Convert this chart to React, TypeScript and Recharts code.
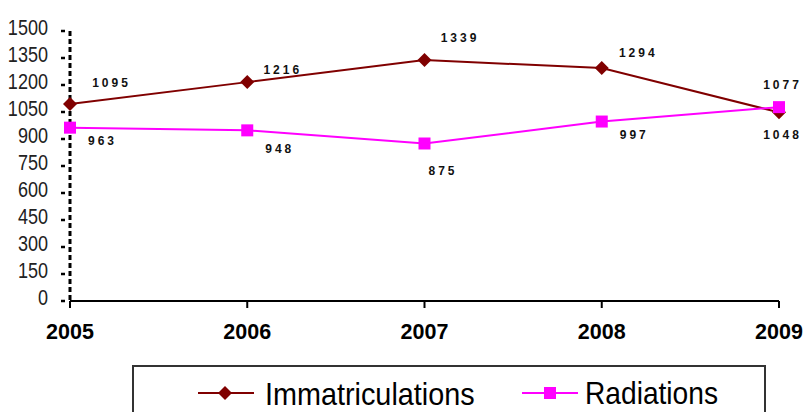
import React from 'react';
import { LineChart, Line, XAxis, YAxis, LabelList } from 'recharts';

const years = ['2005', '2006', '2007', '2008', '2009'];
const immatriculations = [1095, 1216, 1339, 1294, 1048];
const radiations = [963, 948, 875, 997, 1077];
const yTicks = [0, 150, 300, 450, 600, 750, 900, 1050, 1200, 1350, 1500];

const data = years.map((year, i) => ({
  year,
  immatriculations: immatriculations[i],
  radiations: radiations[i],
}));

const DARK_RED = '#800000';
const MAGENTA = '#FF00FF';
const SANS = '"Liberation Sans", Arial, sans-serif';

// label offsets relative to the point (dx, dy)
const immOffsets = [[40, -21], [34, -12], [34, -22], [35, -15], [2, 23]];
const radOffsets = [[31, 13], [31, 19], [17, 27], [31, 13], [2, -22]];

const Diamond = (props: any) => {
  const { cx, cy } = props;
  if (cx == null || cy == null) return null;
  const r = 7;
  return (
    <polygon
      points={`${cx},${cy - r} ${cx + r},${cy} ${cx},${cy + r} ${cx - r},${cy}`}
      fill={DARK_RED}
    />
  );
};

const Square = (props: any) => {
  const { cx, cy } = props;
  if (cx == null || cy == null) return null;
  return <rect x={cx - 6} y={cy - 6} width={12} height={12} fill={MAGENTA} />;
};

const makeLabel = (offsets: number[][]) => (props: any) => {
  const { x, y, value, index } = props;
  const [dx, dy] = offsets[index] || [0, -12];
  return (
    <text
      x={x + dx + 1.5}
      y={y + dy}
      textAnchor="middle"
      dominantBaseline="central"
      fontFamily={SANS}
      fontWeight="bold"
      fontSize={12}
      letterSpacing={3}
      fill="#111"
    >
      {value}
    </text>
  );
};

// narrow text: Arial scaled horizontally, like Arial Narrow
const NarrowText = ({ x, y, size, anchor, children }: any) => (
  <text
    transform={`translate(${x},${y}) scale(0.82,1)`}
    textAnchor={anchor}
    dominantBaseline="central"
    fontFamily={SANS}
    fontSize={size}
    fill="#222"
  >
    {children}
  </text>
);

const YTick = (props: any) => {
  const { x, y, payload } = props;
  return (
    <g>
      <line x1={x - 1} x2={x + 3} y1={y} y2={y} stroke="#000" strokeWidth={2.5} />
      <NarrowText x={x - 14} y={y - 4} size={22} anchor="end">
        {payload.value}
      </NarrowText>
    </g>
  );
};

const XTick = (props: any) => {
  const { x, y, payload } = props;
  return (
    <g>
      <line x1={x} x2={x} y1={y - 8} y2={y - 1} stroke="#000" strokeWidth={2} />
      <text
        x={x}
        y={y + 23}
        textAnchor="middle"
        dominantBaseline="central"
        fontFamily={SANS}
        fontWeight="bold"
        fontSize={21.5}
        fill="#000"
      >
        {payload.value}
      </text>
    </g>
  );
};

const LegendBox = () => (
  <div
    style={{
      position: 'absolute',
      left: 132,
      top: 365,
      width: 634,
      height: 60,
      border: '2px solid #333',
      boxSizing: 'border-box',
      background: '#fff',
    }}
  >
    <svg width={634} height={60} style={{ position: 'absolute', left: -2, top: -2 }}>
      <line x1={66} x2={122} y1={28} y2={28} stroke={DARK_RED} strokeWidth={2} />
      <polygon points="93,21 100,28 93,35 86,28" fill={DARK_RED} />
      <text
        transform="translate(133,28) scale(0.9,1)"
        dominantBaseline="central"
        fontFamily={SANS}
        fontSize={32}
        fill="#000"
      >
        Immatriculations
      </text>
      <line x1={390} x2={446} y1={28} y2={28} stroke={MAGENTA} strokeWidth={2} />
      <rect x={412} y={22} width={12} height={12} fill={MAGENTA} />
      <text
        transform="translate(453,28) scale(0.88,1)"
        dominantBaseline="central"
        fontFamily={SANS}
        fontSize={32}
        fill="#000"
      >
        Radiations
      </text>
    </svg>
  </div>
);

export default function App() {
  return (
    <div style={{ position: 'absolute', left: 0, top: 0, width: 803, height: 412, background: '#fff', overflow: 'hidden' }}>
      <LineChart
        width={803}
        height={412}
        data={data}
        margin={{ top: 31, right: 24, left: 0, bottom: 81 }}
      >
        <XAxis
          dataKey="year"
          height={30}
          axisLine={{ stroke: '#000', strokeWidth: 2 }}
          tickLine={false}
          tick={<XTick />}
          interval={0}
          padding={{ left: 0, right: 0 }}
        />
        <YAxis
          width={70}
          domain={[0, 1500]}
          ticks={yTicks}
          interval={0}
          axisLine={{ stroke: '#000', strokeWidth: 3, strokeDasharray: '5 3' }}
          tickLine={false}
          tick={<YTick />}
        />
        <Line
          dataKey="immatriculations"
          stroke={DARK_RED}
          strokeWidth={2}
          dot={<Diamond />}
          activeDot={false}
          isAnimationActive={false}
        >
          <LabelList dataKey="immatriculations" content={makeLabel(immOffsets)} />
        </Line>
        <Line
          dataKey="radiations"
          stroke={MAGENTA}
          strokeWidth={2}
          dot={<Square />}
          activeDot={false}
          isAnimationActive={false}
        >
          <LabelList dataKey="radiations" content={makeLabel(radOffsets)} />
        </Line>
      </LineChart>
      <LegendBox />
    </div>
  );
}
